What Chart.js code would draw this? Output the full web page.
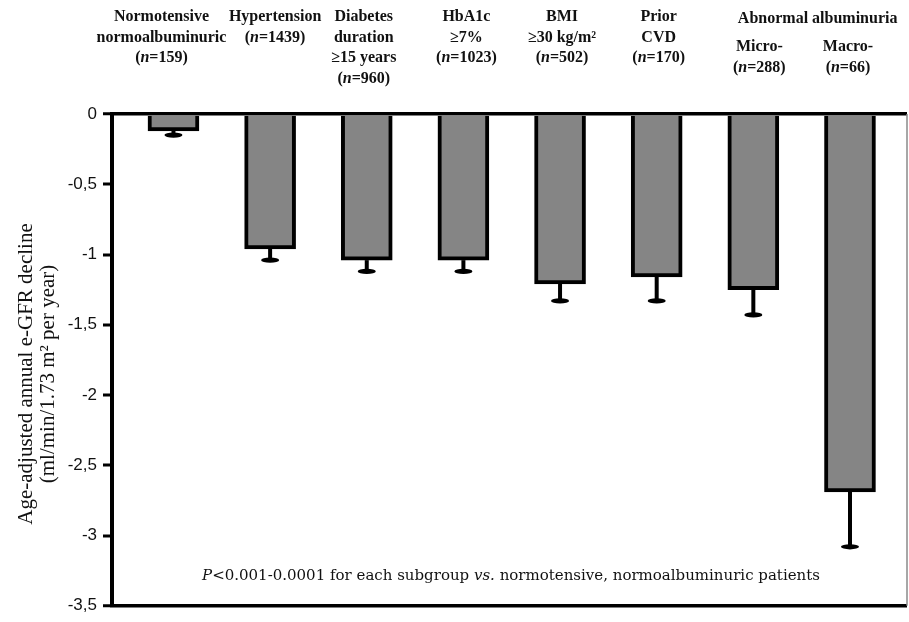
<!DOCTYPE html>
<html>
<head>
<meta charset="utf-8">
<script src="https://cdn.jsdelivr.net/npm/chart.js@4.4.1/dist/chart.umd.min.js"></script>
<style>
  html, body { margin: 0; padding: 0; background: #fff; }
  canvas { display: block; }
</style>
</head>
<body>
<canvas id="chart" width="909" height="622"></canvas>
<script>
// Subgroups shown across the top of the plot
const categories = ['Normotensive normoalbuminuric', 'Hypertension', 'Diabetes duration ≥15 years',
  'HbA1c ≥7%', 'BMI ≥30 kg/m²', 'Prior CVD', 'Micro-', 'Macro-'];
const headerLines = [
  ['Normotensive', 'normoalbuminuric'],
  ['Hypertension'],
  ['Diabetes', 'duration', '≥15 years'],
  ['HbA1c', '≥7%'],
  ['BMI', '≥30 kg/m²'],
  ['Prior', 'CVD'],
  ['Micro-'],
  ['Macro-']
];
const sampleSizes = [159, 1439, 960, 1023, 502, 170, 288, 66];

// Age-adjusted annual e-GFR decline (ml/min/1.73 m² per year) and lower error limit
const meanDecline = [-0.12, -0.96, -1.04, -1.04, -1.21, -1.16, -1.25, -2.69];
const lowerLimit  = [-0.15, -1.04, -1.12, -1.12, -1.33, -1.33, -1.43, -3.08];

const yTicks = [0, -0.5, -1, -1.5, -2, -2.5, -3, -3.5];
const groupLabel = 'Abnormal albuminuria';
const yTitle = ['Age-adjusted annual e-GFR decline', '(ml/min/1.73 m² per year)'];
const footnote = '*P*<0.001-0.0001 for each subgroup *vs.* normotensive, normoalbuminuric patients';

const SERIF = '"Liberation Serif", "Times New Roman", serif';
const INK = '#111';

// Draws one line of text where segments wrapped in * are italic
function drawRich(ctx, str, cx, cy, size, family, weight) {
  const parts = str.split('*');
  const fonts = parts.map((_, k) => `${k % 2 ? 'italic ' : ''}${weight} ${size}px ${family}`);
  let total = 0;
  const widths = parts.map((p, k) => {
    ctx.font = fonts[k];
    const w = ctx.measureText(p).width;
    total += w;
    return w;
  });
  let x = cx - total / 2;
  ctx.textAlign = 'left';
  ctx.textBaseline = 'middle';
  parts.forEach((p, k) => {
    ctx.font = fonts[k];
    ctx.fillText(p, x, cy);
    x += widths[k];
  });
}

// Error whiskers below each bar
const errorBars = {
  id: 'errorBars',
  afterDatasetsDraw(chart) {
    const { ctx, scales: { x, y } } = chart;
    ctx.save();
    ctx.strokeStyle = '#000';
    ctx.fillStyle = '#000';
    meanDecline.forEach((v, i) => {
      const px = x.getPixelForValue(i);
      const y0 = y.getPixelForValue(v);
      const y1 = y.getPixelForValue(lowerLimit[i]);
      ctx.lineWidth = 4;
      ctx.beginPath();
      ctx.moveTo(px, y0);
      ctx.lineTo(px, y1);
      ctx.stroke();
      ctx.beginPath();
      ctx.ellipse(px, y1, 9, 2.6, 0, 0, Math.PI * 2);
      ctx.fill();
    });
    ctx.restore();
  }
};

// Frame, headers, axis title and footnote
const annotations = {
  id: 'annotations',
  afterDraw(chart) {
    const { ctx, chartArea: a, scales: { x } } = chart;
    ctx.save();

    // right edge of the frame
    ctx.strokeStyle = '#8a8a8a';
    ctx.lineWidth = 1.5;
    ctx.beginPath();
    ctx.moveTo(a.right, a.top);
    ctx.lineTo(a.right, a.bottom);
    ctx.stroke();

    ctx.fillStyle = INK;
    // column headers
    const shift = [-12, 5, -3, 3, 2, 2, 6, -2];
    headerLines.forEach((lines, i) => {
      const cx = x.getPixelForValue(i) + shift[i];
      const startY = i >= 6 ? 47 : 17;
      const all = lines.concat([`(*n*=${sampleSizes[i]})`]);
      all.forEach((t, k) => drawRich(ctx, t, cx, startY + k * 20.5, 16, SERIF, 'bold'));
    });
    // group label above the albuminuria columns
    const gx = (x.getPixelForValue(6) + x.getPixelForValue(7)) / 2 + 16;
    drawRich(ctx, groupLabel, gx, 19, 16, SERIF, 'bold');

    // y axis title
    ctx.save();
    ctx.translate(0, 374);
    ctx.rotate(-Math.PI / 2);
    ctx.font = `21px ${SERIF}`;
    ctx.textAlign = 'center';
    ctx.textBaseline = 'middle';
    ctx.fillText(yTitle[0], 0, 26);
    ctx.fillText(yTitle[1], 0, 48);
    ctx.restore();

    // footnote
    drawRich(ctx, footnote, 511, 576, 15, '"DejaVu Serif", serif', 'normal');
    ctx.restore();
  }
};

const isFrameLine = (c) => c.tick && (c.tick.value === yTicks[0] || c.tick.value === yTicks[yTicks.length - 1]);

new Chart(document.getElementById('chart'), {
  type: 'bar',
  data: {
    datasets: [{
      label: 'e-GFR decline',
      data: meanDecline.map((v, i) => ({ x: i, y: v })),
      backgroundColor: '#858585',
      borderColor: '#000',
      borderWidth: 4,
      borderSkipped: 'start',
      barThickness: 51
    }]
  },
  options: {
    responsive: false,
    animation: false,
    devicePixelRatio: 1,
    layout: { padding: { top: 114, left: 0, right: 2, bottom: 13 } },
    plugins: { legend: { display: false }, tooltip: { enabled: false } },
    scales: {
      x: {
        type: 'linear',
        min: -0.636,
        max: 7.59,
        offset: false,
        display: false
      },
      y: {
        min: yTicks[yTicks.length - 1],
        max: yTicks[0],
        afterFit(scale) { scale.width = 112; },
        afterBuildTicks(scale) { scale.ticks = yTicks.map(v => ({ value: v })); },
        ticks: {
          color: INK,
          padding: 6,
          font: { family: '"Liberation Sans", Arial, sans-serif', size: 17 },
          callback: (v) => String(v).replace('.', ',')
        },
        grid: {
          drawOnChartArea: true,
          color: (c) => isFrameLine(c) ? '#000' : 'rgba(0,0,0,0)',
          lineWidth: (c) => isFrameLine(c) ? 3.5 : 0,
          tickColor: '#000',
          tickWidth: 3,
          tickLength: 9
        },
        border: { display: true, color: '#000', width: 4 }
      }
    }
  },
  plugins: [errorBars, annotations]
});
</script>
</body>
</html>
